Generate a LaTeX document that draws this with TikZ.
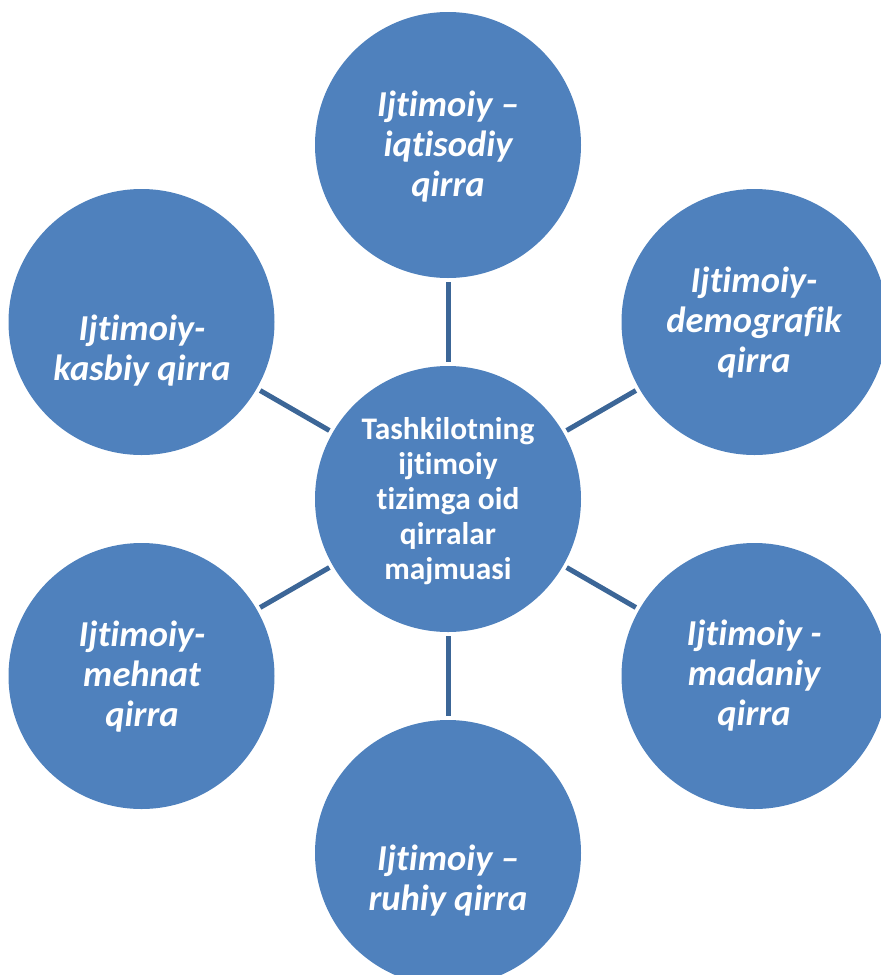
\documentclass[tikz,border=0pt]{standalone}
\usepackage{fontspec}
\setmainfont[Ligatures={NoCommon}]{Carlito}
\definecolor{fillblue}{HTML}{4F81BD}
\definecolor{lineblue}{HTML}{3C6697}
\begin{document}
\begin{tikzpicture}[x=1pt,y=-1pt,
  bubble/.style={circle, fill=fillblue, minimum size=266pt, inner sep=0pt, outer sep=0pt},
  outertext/.style={text=white, align=center, font=\fontsize{36.5}{40}\selectfont\bfseries\itshape, inner sep=0pt},
  centertext/.style={text=white, align=center, font=\fontsize{31.4}{35}\selectfont\bfseries, inner sep=0pt},
  link/.style={draw=lineblue, line width=5pt, shorten <=4pt, shorten >=4pt}]
\useasboundingbox (0,0) rectangle (881,975);
\clip (0,0) rectangle (881,975);
\node[bubble] (C) at (448,499) {};
\node[bubble] (N) at (448,145) {};
\node[bubble] (NE) at (754.5,322) {};
\node[bubble] (SE) at (754.5,676) {};
\node[bubble] (S) at (448,853) {};
\node[bubble] (SW) at (141.5,676) {};
\node[bubble] (NW) at (141.5,322) {};
\draw[link] (C) -- (N);
\draw[link] (C) -- (NE);
\draw[link] (C) -- (SE);
\draw[link] (C) -- (S);
\draw[link] (C) -- (SW);
\draw[link] (C) -- (NW);
\node[centertext] (tC) at (448,501) {Tashkilotning\\ijtimoiy\\tizimga oid\\qirralar\\majmuasi};
\node[outertext] (tN) at (448,147) {Ijtimoiy –\\iqtisodiy\\qirra};
\node[outertext] (tNE) at (754,323) {Ijtimoiy-\\demografik\\qirra};
\node[outertext] (tSE) at (754,676) {Ijtimoiy -\\madaniy\\qirra};
\node[outertext] (tS) at (448,881) {Ijtimoiy –\\ruhiy qirra};
\node[outertext] (tSW) at (142,677) {Ijtimoiy-\\mehnat\\qirra};
\node[outertext] (tNW) at (142,351) {Ijtimoiy-\\kasbiy qirra};
\end{tikzpicture}
\end{document}
